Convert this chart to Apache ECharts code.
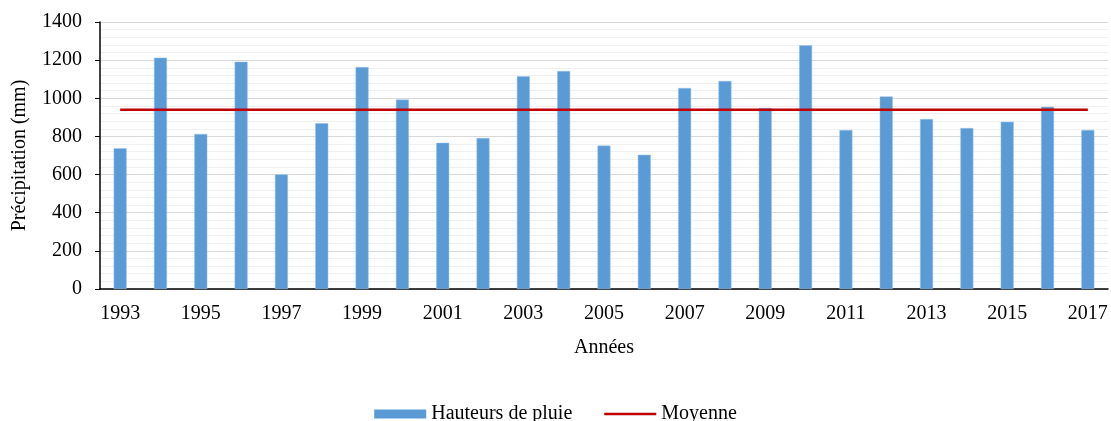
<!DOCTYPE html>
<html>
<head>
<meta charset="utf-8">
<script src="https://cdn.jsdelivr.net/npm/echarts@6/dist/echarts.min.js"></script>
<style>
  html, body { margin: 0; padding: 0; background: #fff; }
  #main { width: 1111px; height: 421px; }
</style>
</head>
<body>
<div id="main"></div>
<script>
var years = ['1993','1994','1995','1996','1997','1998','1999','2000','2001','2002','2003','2004','2005',
	'2006','2007','2008','2009','2010','2011','2012','2013','2014','2015','2016','2017'];
var pluie = [738,1213,813,1192,601,869,1164,993,767,792,1115,1143,752,
	704,1054,1091,949,1278,834,1010,891,844,877,956,834];
var moyenne = 940;
var moyenneData = years.map(function(){ return moyenne; });

var font = '"Liberation Serif", "DejaVu Serif", serif';
// thin line icon inside a 52x9 box for the legend
var lineIcon = 'path://M0,0 L0.01,0 L0.01,0.01 Z M0,9 L0.01,9 L0.01,8.99 Z M0,3.3 L52,3.3 L52,5.7 L0,5.7 Z';
var myChart = echarts.init(document.getElementById('main'));

myChart.setOption({
	animation: false,
	textStyle: { fontFamily: font, color: '#000' },
	grid: { left: 100, right: 3, top: 22, bottom: 132, outerBoundsMode: 'none' },
	legend: {
		top: 399,
		left: 'center',
		itemGap: 32,
		itemWidth: 52,
		itemHeight: 9,
		itemStyle: { borderWidth: 0 },
		textStyle: { fontFamily: font, fontSize: 20, color: '#000' },
		data: [
			{ name: 'Hauteurs de pluie', icon: 'rect' },
			{ name: 'Moyenne', icon: lineIcon }
		]
	},
	xAxis: {
		type: 'category',
		data: years,
		name: 'Années',
		nameLocation: 'middle',
		nameGap: 49,
		nameTextStyle: { fontFamily: font, fontSize: 20, color: '#000' },
		axisLine: { lineStyle: { color: '#000', width: 1.5 } },
		axisTick: { show: false },
		axisLabel: { interval: 1, fontFamily: font, fontSize: 20, color: '#000', margin: 15 }
	},
	yAxis: {
		type: 'value',
		min: 0,
		max: 1400,
		interval: 200,
		name: 'Précipitation (mm)',
		nameLocation: 'middle',
		nameGap: 70,
		nameTextStyle: { fontFamily: font, fontSize: 20, color: '#000' },
		axisLine: { show: true, lineStyle: { color: '#000', width: 1.5 } },
		axisTick: { show: true, length: 5, lineStyle: { color: '#000' } },
		axisLabel: {
			fontFamily: font, fontSize: 20, color: '#000', margin: 18,
			formatter: function(v){ return String(v); }
		},
		splitLine: { lineStyle: { color: '#d9d9d9', width: 1 } },
		minorTick: { show: false, splitNumber: 5 },
		minorSplitLine: { show: true, lineStyle: { color: '#f0f0f0', width: 1 } }
	},
	series: [
		{
			name: 'Hauteurs de pluie',
			type: 'bar',
			data: pluie,
			barWidth: 13,
			itemStyle: { color: '#5B9BD5', borderColor: '#9DC3E6', borderWidth: 0.5 }
		},
		{
			name: 'Moyenne',
			type: 'line',
			data: moyenneData,
			symbol: 'none',
			lineStyle: { color: '#C00000', width: 2.5 },
			itemStyle: { color: '#C00000' }
		}
	]
});
window.onresize = myChart.resize;
</script>
</body>
</html>
